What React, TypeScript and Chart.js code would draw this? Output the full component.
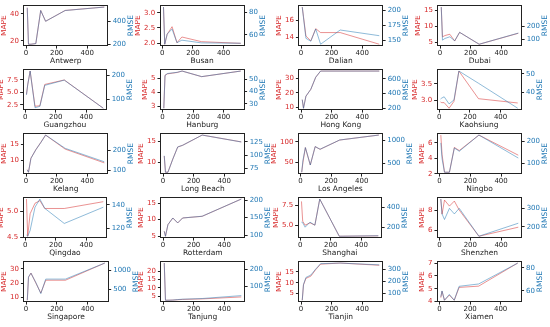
import React, { useEffect, useRef } from "react";
import { Chart, registerables } from "chart.js";

Chart.register(...registerables);

// ---------------- data ----------------
const X_VALUES = [8, 16, 32, 64, 96, 128, 256, 512];
const X_TICKS = [0, 200, 400];

const antwerpMape = [44.5, 17.5, 17.5, 18, 42.5, 34.5, 42.5, 45];
const antwerpRmse = [518, 200, 200, 206, 494, 400, 494, 524];
const antwerpMapeTicks = ["20", "40"];
const antwerpRmseTicks = ["200", "400"];

const busanMape = [3.19, 1.96, 2.29, 2.54, 2.01, 2.2, 2.045, 1.99];
const busanRmse = [84.5, 51.6, 60.6, 65, 53, 55.2, 52.8, 52.5];
const busanMapeTicks = ["2.0", "2.5", "3.0"];
const busanRmseTicks = ["60", "80"];

const dalianMape = [17.5, 16.4, 14.15, 13.6, 15.0, 14.55, 14.55, 13.2];
const dalianRmse = [205.7, 188, 153, 148, 168.7, 143, 167, 157.4];
const dalianMapeTicks = ["14", "16"];
const dalianRmseTicks = ["150", "175", "200"];

const dubaiMape = [16.05, 6.8, 7.2, 7.6, 5.5, 8.2, 4.5, 7.9];
const dubaiRmse = [350, 92, 105, 118, 87, 153, 60, 147];
const dubaiMapeTicks = ["5", "10", "15"];
const dubaiRmseTicks = ["100", "200"];

const guangzhouMape = [4.6, 6.5, 9.3, 2.2, 2.3, 6.6, 7.5, 1.8];
const guangzhouRmse = [118, 160, 218, 64, 70, 158, 180, 62];
const guangzhouMapeTicks = ["2.5", "5.0", "7.5"];
const guangzhouRmseTicks = ["100", "200"];

const hamburgMape = [2.85, 5.2, 5.3, 5.35, 5.4, 5.5, 5.1, 5.5];
const hamburgRmse = [26.4, 53, 54.5, 55, 55.5, 56.5, 52, 56.5];
const hamburgMapeTicks = ["3", "4", "5"];
const hamburgRmseTicks = ["30", "40", "50"];

const hongKongMape = [15.2, 9.3, 17.6, 22.4, 30.7, 35, 35, 35];
const hongKongRmse = [318, 200, 365, 459, 624, 708, 708, 708];
const hongKongMapeTicks = ["10", "20", "30"];
const hongKongRmseTicks = ["200", "400", "600"];

const kaohsiungMape = [2.95, 2.93, 2.93, 2.76, 2.97, 3.89, 3.05, 2.92];
const kaohsiungRmse = [36.5, 37, 37.7, 33.9, 36, 51.4, 44.9, 31.6];
const kaohsiungMapeTicks = ["3.0", "3.5"];
const kaohsiungRmseTicks = ["40", "50"];

const kelangMape = [6.9, 6.1, 10.6, 13.3, 15.6, 18, 13.5, 9.1];
const kelangRmse = [103, 91, 160, 203, 238, 276, 210, 143];
const kelangMapeTicks = ["10", "15"];
const kelangRmseTicks = ["100", "200"];

const longBeachMape = [11.5, 7.7, 7.7, 10.8, 13.6, 14, 16.4, 14.8];
const longBeachRmse = [98.8, 67.9, 67.9, 92.6, 115.4, 118.5, 137.7, 124.7];
const longBeachMapeTicks = ["10", "15"];
const longBeachRmseTicks = ["75", "100", "125"];

const losAngelesMape = [25.8, 50, 86.3, 43.5, 88.7, 82, 104.8, 117];
const losAngelesRmse = [297, 560, 840, 457, 862, 804, 1007, 1116];
const losAngelesMapeTicks = ["50", "100"];
const losAngelesRmseTicks = ["500", "1000"];

const ningboMape = [7.0, 4.5, 2.2, 2.2, 5.4, 5.0, 7.0, 4.4];
const ningboRmse = [192, 120, 58, 58, 169, 154, 228, 123];
const ningboMapeTicks = ["2", "4", "6"];
const ningboRmseTicks = ["100", "200"];

const qingdaoMape = [5.23, 4.52, 4.95, 5.15, 5.2, 5.05, 5.05, 5.18];
const qingdaoRmse = [114, 113, 118, 138, 145, 137, 124, 138];
const qingdaoMapeTicks = ["4.5", "5.0"];
const qingdaoRmseTicks = ["120", "140"];

const rotterdamMape = [6.5, 5.0, 8.5, 10.5, 9.0, 10.5, 11.0, 16.2];
const rotterdamRmse = [111, 97, 130, 149, 135, 149, 154, 203];
const rotterdamMapeTicks = ["5", "10", "15"];
const rotterdamRmseTicks = ["100", "150", "200"];

const shanghaiMape = [8.0, 5.5, 5.0, 5.3, 5.0, 8.3, 3.6, 3.65];
const shanghaiRmse = [250, 245, 200, 250, 220, 480, 110, 115];
const shanghaiMapeTicks = ["5.0", "7.5"];
const shanghaiRmseTicks = ["200", "400"];

const shenzhenMape = [9.1, 7.6, 9.0, 8.4, 8.9, 8.0, 5.4, 6.3];
const shenzhenRmse = [350, 270, 240, 300, 270, 300, 150, 220];
const shenzhenMapeTicks = ["6", "8"];
const shenzhenRmseTicks = ["200", "300"];

const singaporeMape = [8, 24, 27, 20, 13, 22, 22, 34];
const singaporeRmse = [230, 830, 920, 680, 400, 770, 770, 1180];
const singaporeMapeTicks = ["10", "20", "30"];
const singaporeRmseTicks = ["500", "1000"];

const tanjungMape = [25, 2.5, 2.5, 2.6, 2.8, 3.0, 3.3, 4.5];
const tanjungRmse = [235, 18, 18, 19, 22, 24, 28, 45];
const tanjungMapeTicks = ["5", "10", "15", "20"];
const tanjungRmseTicks = ["100", "200"];

const tianjinMape = [2, 9, 12, 13, 16, 18.5, 19, 18];
const tianjinRmse = [40, 170, 230, 250, 300, 345, 350, 335];
const tianjinMapeTicks = ["5", "10", "15"];
const tianjinRmseTicks = ["100", "200", "300"];

const xiamenMape = [4.3, 4.8, 4.1, 4.5, 4.1, 5.1, 5.2, 7.0];
const xiamenRmse = [55, 60, 52, 57, 52, 64, 66, 84];
const xiamenMapeTicks = ["4", "5", "6", "7"];
const xiamenRmseTicks = ["60", "80"];

type PanelData = {
  name: string;
  mape: number[];
  rmse: number[];
  mapeTicks: string[];
  rmseTicks: string[];
};

const PANELS: PanelData[] = [
  { name: "Antwerp", mape: antwerpMape, rmse: antwerpRmse, mapeTicks: antwerpMapeTicks, rmseTicks: antwerpRmseTicks },
  { name: "Busan", mape: busanMape, rmse: busanRmse, mapeTicks: busanMapeTicks, rmseTicks: busanRmseTicks },
  { name: "Dalian", mape: dalianMape, rmse: dalianRmse, mapeTicks: dalianMapeTicks, rmseTicks: dalianRmseTicks },
  { name: "Dubai", mape: dubaiMape, rmse: dubaiRmse, mapeTicks: dubaiMapeTicks, rmseTicks: dubaiRmseTicks },
  { name: "Guangzhou", mape: guangzhouMape, rmse: guangzhouRmse, mapeTicks: guangzhouMapeTicks, rmseTicks: guangzhouRmseTicks },
  { name: "Hanburg", mape: hamburgMape, rmse: hamburgRmse, mapeTicks: hamburgMapeTicks, rmseTicks: hamburgRmseTicks },
  { name: "Hong Kong", mape: hongKongMape, rmse: hongKongRmse, mapeTicks: hongKongMapeTicks, rmseTicks: hongKongRmseTicks },
  { name: "Kaohsiung", mape: kaohsiungMape, rmse: kaohsiungRmse, mapeTicks: kaohsiungMapeTicks, rmseTicks: kaohsiungRmseTicks },
  { name: "Kelang", mape: kelangMape, rmse: kelangRmse, mapeTicks: kelangMapeTicks, rmseTicks: kelangRmseTicks },
  { name: "Long Beach", mape: longBeachMape, rmse: longBeachRmse, mapeTicks: longBeachMapeTicks, rmseTicks: longBeachRmseTicks },
  { name: "Los Angeles", mape: losAngelesMape, rmse: losAngelesRmse, mapeTicks: losAngelesMapeTicks, rmseTicks: losAngelesRmseTicks },
  { name: "Ningbo", mape: ningboMape, rmse: ningboRmse, mapeTicks: ningboMapeTicks, rmseTicks: ningboRmseTicks },
  { name: "Qingdao", mape: qingdaoMape, rmse: qingdaoRmse, mapeTicks: qingdaoMapeTicks, rmseTicks: qingdaoRmseTicks },
  { name: "Rotterdam", mape: rotterdamMape, rmse: rotterdamRmse, mapeTicks: rotterdamMapeTicks, rmseTicks: rotterdamRmseTicks },
  { name: "Shanghai", mape: shanghaiMape, rmse: shanghaiRmse, mapeTicks: shanghaiMapeTicks, rmseTicks: shanghaiRmseTicks },
  { name: "Shenzhen", mape: shenzhenMape, rmse: shenzhenRmse, mapeTicks: shenzhenMapeTicks, rmseTicks: shenzhenRmseTicks },
  { name: "Singapore", mape: singaporeMape, rmse: singaporeRmse, mapeTicks: singaporeMapeTicks, rmseTicks: singaporeRmseTicks },
  { name: "Tanjung", mape: tanjungMape, rmse: tanjungRmse, mapeTicks: tanjungMapeTicks, rmseTicks: tanjungRmseTicks },
  { name: "Tianjin", mape: tianjinMape, rmse: tianjinRmse, mapeTicks: tianjinMapeTicks, rmseTicks: tianjinRmseTicks },
  { name: "Xiamen", mape: xiamenMape, rmse: xiamenRmse, mapeTicks: xiamenMapeTicks, rmseTicks: xiamenRmseTicks },
];

// ---------------- layout / style ----------------
const COL_LEFT = [23, 160, 298, 437];
const ROW_TOP = [5, 69, 133, 197, 261];
const PLOT_W = 85;
const PLOT_H = 41;
const TITLE_SPACE = 7;

const RED = "#d62728";
const BLUE = "#1f77b4";
const RED_LINE = "rgba(214,39,40,0.5)";
const BLUE_LINE = "rgba(31,119,180,0.5)";
const FONT_FAMILY = "'DejaVu Sans', sans-serif";
const TICK_FONT = { family: FONT_FAMILY, size: 7 };
const TITLE_FONT = { family: FONT_FAMILY, size: 7.5 };

function padRange(values: number[]) {
  const lo = Math.min(...values);
  const hi = Math.max(...values);
  const m = (hi - lo) * 0.05;
  return { min: lo - m, max: hi + m };
}

const framePlugin = {
  id: "frame",
  afterDatasetsDraw(chart: any) {
    const { ctx, chartArea } = chart;
    const l = Math.round(chartArea.left) + 0.5;
    const t = Math.round(chartArea.top) + 0.5;
    const r = Math.round(chartArea.right) - 0.5;
    const b = Math.round(chartArea.bottom) - 0.5;
    ctx.save();
    ctx.strokeStyle = "#222";
    ctx.lineWidth = 1;
    ctx.strokeRect(l, t, r - l, b - t);
    ctx.restore();
  },
};

const yTitlePlugin = {
  id: "ytitles",
  afterDraw(chart: any) {
    const { ctx, chartArea } = chart;
    const cy = (chartArea.top + chartArea.bottom) / 2;
    const draw = (x: number, text: string, color: string) => {
      ctx.save();
      ctx.translate(x, cy);
      ctx.rotate(-Math.PI / 2);
      ctx.font = `${TITLE_FONT.size}px ${FONT_FAMILY}`;
      ctx.fillStyle = color;
      ctx.textAlign = "center";
      ctx.textBaseline = "middle";
      ctx.fillText(text, 0, 0);
      ctx.restore();
    };
    draw(chart.scales.y.left + TITLE_SPACE / 2, "MAPE", RED);
    draw(chart.scales.y1.right - TITLE_SPACE / 2, "RMSE", BLUE);
  },
};

function yAxis(position: "left" | "right", labels: string[], values: number[], color: string) {
  const range = padRange(values);
  return {
    type: "linear" as const,
    position,
    min: range.min,
    max: range.max,
    afterBuildTicks: (scale: any) => {
      scale.ticks = labels.map((s) => ({ value: parseFloat(s) }));
    },
    afterFit: (scale: any) => {
      scale.width += TITLE_SPACE;
    },
    ticks: {
      font: TICK_FONT,
      color,
      padding: 2,
      autoSkip: false,
      callback: (v: any) => {
        const f = labels.find((s) => Math.abs(parseFloat(s) - v) < 1e-9);
        return f ?? "";
      },
    },
    grid: { display: true, drawOnChartArea: false, drawTicks: true, tickLength: 2.5, color: "#222" },
    border: { display: false },
    title: { display: false },
  };
}

function makeConfig(p: PanelData): any {
  const xr = padRange(X_VALUES);
  return {
    type: "line",
    data: {
      datasets: [
        {
          label: "RMSE",
          data: X_VALUES.map((x, i) => ({ x, y: p.rmse[i] })),
          yAxisID: "y1",
          borderColor: BLUE_LINE,
          borderWidth: 1,
          pointRadius: 0,
          fill: false,
          tension: 0,
        },
        {
          label: "MAPE",
          data: X_VALUES.map((x, i) => ({ x, y: p.mape[i] })),
          yAxisID: "y",
          borderColor: RED_LINE,
          borderWidth: 1,
          pointRadius: 0,
          fill: false,
          tension: 0,
        },
      ],
    },
    options: {
      responsive: false,
      maintainAspectRatio: false,
      animation: false,
      devicePixelRatio: 1,
      layout: { padding: { top: 4, right: 0, bottom: 0, left: 0 } },
      plugins: { legend: { display: false }, tooltip: { enabled: false } },
      scales: {
        x: {
          type: "linear",
          min: xr.min,
          max: xr.max,
          afterBuildTicks: (scale: any) => {
            scale.ticks = X_TICKS.map((v) => ({ value: v }));
          },
          ticks: { font: TICK_FONT, color: "#222", padding: 0, maxRotation: 0, autoSkip: false },
          grid: { display: true, drawOnChartArea: false, drawTicks: true, tickLength: 2.5, color: "#222" },
          border: { display: false },
          title: { display: true, text: p.name, color: "#222", font: TITLE_FONT, padding: { top: 0, bottom: 0 } },
        },
        y: yAxis("left", p.mapeTicks, p.mape, RED),
        y1: yAxis("right", p.rmseTicks, p.rmse, BLUE),
      },
    },
    plugins: [framePlugin, yTitlePlugin],
  };
}

function Panel({ p, index }: { p: PanelData; index: number }) {
  const ref = useRef<HTMLCanvasElement>(null);
  useEffect(() => {
    const canvas = ref.current!;
    const col = index % 4;
    const row = Math.floor(index / 4);
    const W0 = 200;
    const H0 = 90;
    canvas.width = W0;
    canvas.height = H0;
    let chart = new Chart(canvas, makeConfig(p));
    const ca = chart.chartArea;
    const lw = ca.left;
    const rw = W0 - ca.right;
    const th = ca.top;
    const bh = H0 - ca.bottom;
    chart.destroy();
    const W = Math.round(lw + PLOT_W + rw);
    const H = Math.round(th + PLOT_H + bh);
    canvas.width = W;
    canvas.height = H;
    canvas.style.width = W + "px";
    canvas.style.height = H + "px";
    canvas.style.left = Math.round(COL_LEFT[col] - lw) + "px";
    canvas.style.top = Math.round(ROW_TOP[row] - th) + "px";
    chart = new Chart(canvas, makeConfig(p));
    return () => chart.destroy();
  }, [p, index]);
  return <canvas ref={ref} style={{ position: "absolute" }} />;
}

export default function App() {
  return (
    <div
      style={{
        position: "absolute",
        left: 0,
        top: 0,
        width: 550,
        height: 327,
        background: "#fff",
        overflow: "hidden",
      }}
    >
      {PANELS.map((p, i) => (
        <Panel key={p.name} p={p} index={i} />
      ))}
    </div>
  );
}
